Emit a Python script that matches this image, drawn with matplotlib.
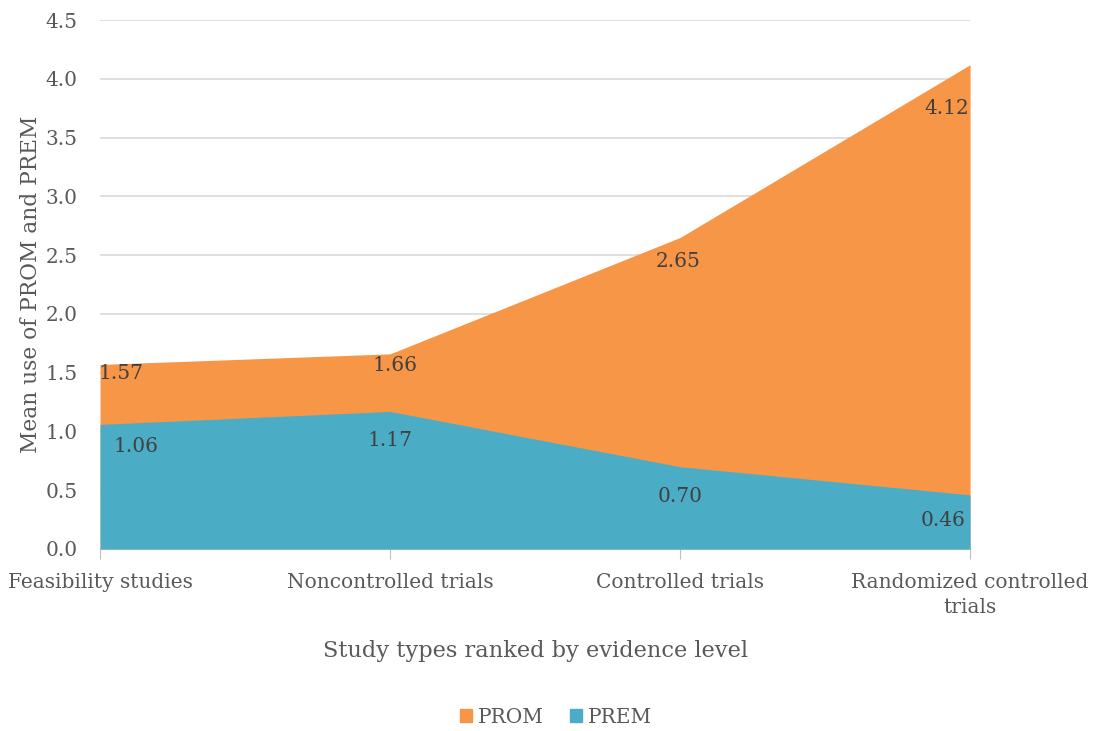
import matplotlib
matplotlib.use("Agg")
import matplotlib.pyplot as plt
from matplotlib.patches import Patch

categories = ["Feasibility studies", "Noncontrolled trials", "Controlled trials",
              "Randomized controlled\ntrials"]
prom = [1.57, 1.66, 2.65, 4.12]
prem = [1.06, 1.17, 0.70, 0.46]
yticks = [0.0, 0.5, 1.0, 1.5, 2.0, 2.5, 3.0, 3.5, 4.0, 4.5]

# label offsets in pixels (styling only)
prom_off = [(21, -9), (5, -12), (-2, -24), (-23, -44)]
prem_off = [(36, -22), (0, -29), (0, -30), (-27, -26)]

plt.rcParams['font.family'] = ['DejaVu Serif']
ORANGE = "#F79646"
BLUE = "#4BACC6"
TICKC = "#595959"
LABC = "#404040"

fig = plt.figure(figsize=(10.97, 7.31), dpi=100)
ax = fig.add_axes([0.0912, 0.249, 0.7931, 0.7236])
x = list(range(len(categories)))
ax.fill_between(x, 0, prom, color=ORANGE, linewidth=0, zorder=2)
ax.fill_between(x, 0, prem, color=BLUE, linewidth=0, zorder=3)

ax.set_xlim(0, 3)
ax.set_ylim(0, 4.5)
ax.set_yticks(yticks)
ax.set_yticklabels([f"{v:.1f}" for v in yticks], color=TICKC, fontsize=14.5)
ax.set_xticks(x)
ax.set_xticklabels(categories, color=TICKC, fontsize=14.5, linespacing=1.45)
ax.grid(axis='y', color="#D9D9D9", linewidth=1.2, zorder=0)
ax.set_axisbelow(True)
for s in ['top', 'right', 'left']:
    ax.spines[s].set_visible(False)
ax.spines['bottom'].set_color("#BFBFBF")
ax.tick_params(axis='y', length=0, pad=16)
ax.tick_params(axis='x', length=7, color="#BFBFBF", pad=10)

for i in x:
    ax.annotate(f"{prom[i]:.2f}", (i, prom[i]), xytext=prom_off[i], textcoords='offset pixels',
                ha='center', va='center', fontsize=14.5, color=LABC, zorder=5)
    ax.annotate(f"{prem[i]:.2f}", (i, prem[i]), xytext=prem_off[i], textcoords='offset pixels',
                ha='center', va='center', fontsize=14.5, color=LABC, zorder=5)

ax.set_ylabel("Mean use of PROM and PREM", fontsize=15.7, color=TICKC, labelpad=3)
ax.set_xlabel("Study types ranked by evidence level", fontsize=16.2, color=TICKC, labelpad=16)

handles = [Patch(color=ORANGE, label="PROM"), Patch(color=BLUE, label="PREM")]
fig.legend(handles=handles, loc='center', bbox_to_anchor=(0.507, 0.019), ncol=2, frameon=False,
           fontsize=14.5, handlelength=0.6, handleheight=0.6, columnspacing=1.3,
           handletextpad=0.3, labelcolor=TICKC)

fig.savefig("out.png", dpi=100)
